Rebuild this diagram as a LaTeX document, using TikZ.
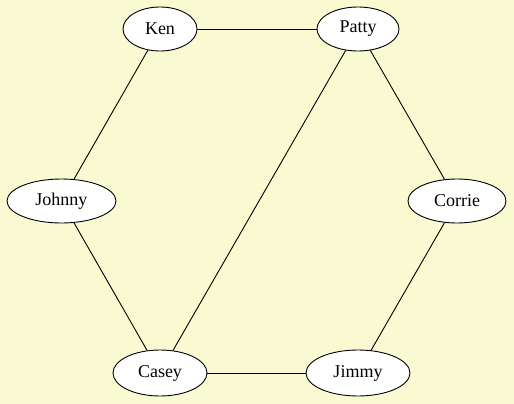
\documentclass[tikz,border=0pt]{standalone}
\usepackage{fontspec}
\setmainfont{Liberation Serif}
\usetikzlibrary{shapes.geometric}
\definecolor{bg}{HTML}{FAFAD2}
\tikzset{
  person/.style={ellipse, draw=black, fill=white, line width=0.9pt, inner sep=0pt, minimum height=44pt, font=\fontsize{18}{20}\selectfont},
  link/.style={draw=black, line width=0.9pt}
}
\begin{document}
\begin{tikzpicture}[x=1pt,y=-1pt]
\fill[bg] (0,0) rectangle (514,404);
\useasboundingbox (0,0) rectangle (514,404);
\node[person, minimum width=74pt] (ken) at (160,29) {Ken};
\node[person, minimum width=82pt] (patty) at (358,29) {Patty};
\node[person, minimum width=109pt] (johnny) at (61.5,201) {Johnny};
\node[person, minimum width=98pt] (corrie) at (457,201) {Corrie};
\node[person, minimum width=94pt, minimum height=46pt] (casey) at (160,373) {Casey};
\node[person, minimum width=104pt, minimum height=46pt] (jimmy) at (358,373) {Jimmy};
\draw[link] (ken) -- (patty);
\draw[link] (ken) -- (johnny);
\draw[link] (johnny) -- (casey);
\draw[link] (casey) -- (jimmy);
\draw[link] (jimmy) -- (corrie);
\draw[link] (corrie) -- (patty);
\draw[link] (patty) -- (casey);
\end{tikzpicture}
\end{document}
